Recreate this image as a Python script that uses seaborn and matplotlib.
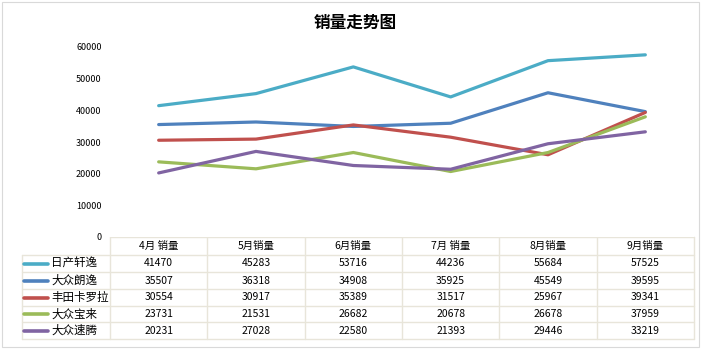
import matplotlib
matplotlib.use("Agg")
import matplotlib.pyplot as plt
import pandas as pd
import seaborn as sns

months = ["4月 销量", "5月销量", "6月销量", "7月 销量", "8月销量", "9月销量"]
models = ["日产轩逸", "大众朗逸", "丰田卡罗拉", "大众宝来", "大众速腾"]
nissan_sylphy = [41470, 45283, 53716, 44236, 55684, 57525]
vw_lavida = [35507, 36318, 34908, 35925, 45549, 39595]
toyota_corolla = [30554, 30917, 35389, 31517, 25967, 39341]
vw_bora = [23731, 21531, 26682, 20678, 26678, 37959]
vw_sagitar = [20231, 27028, 22580, 21393, 29446, 33219]
colors = ["#4BACC6", "#4F81BD", "#C0504D", "#9BBB59", "#8064A2"]
yticks = [0, 10000, 20000, 30000, 40000, 50000, 60000]

series = [nissan_sylphy, vw_lavida, toyota_corolla, vw_bora, vw_sagitar]
rows = []
for name, vals in zip(models, series):
    for i, v in enumerate(vals):
        rows.append({"model": name, "month": i, "sales": v})
df = pd.DataFrame(rows)

sns.set_style("white")
plt.rcParams["font.family"] = ["Noto Sans CJK SC", "DejaVu Sans"]
plt.rcParams["text.color"] = "black"
plt.rcParams["ytick.color"] = "black"

W, H = 708, 354
fig = plt.figure(figsize=(W / 100, H / 100), dpi=100)

# main plot area: x 110..694, y 47..237 px
ax = fig.add_axes([110 / W, (H - 237) / H, (694 - 110) / W, (237 - 47) / H])
sns.lineplot(data=df, x="month", y="sales", hue="model", hue_order=models,
             palette=colors, linewidth=2.3, legend=False, ax=ax)
ax.set_xlim(-0.5, 5.5)
ax.set_ylim(0, 60000)
ax.set_xticks([])
ax.set_yticks(yticks)
ax.set_yticklabels([str(t) for t in yticks], fontsize=6.5)
ax.tick_params(axis="y", length=0, pad=6)
ax.set_xlabel("")
ax.set_ylabel("")
for s in ax.spines.values():
    s.set_visible(False)
for line in ax.lines:
    line.set_clip_on(False)

# overlay in pixel coords for frame, title and data table
ov = fig.add_axes([0, 0, 1, 1], zorder=-1)
ov.set_xlim(0, W)
ov.set_ylim(H, 0)
ov.axis("off")
ov.add_patch(plt.Rectangle((2, 2), 697, 345, fill=False, ec="#D9D9D9", lw=0.8))
fig.text(355 / W, 1 - 23 / H, "销量走势图", ha="center", va="center",
         fontsize=12, fontweight="bold")

grid = "#E8E5DA"
col_edges = [110 + i * (694 - 110) / 6 for i in range(7)]
row_edges = [237, 255, 272, 289, 306, 322, 339]
# header row
ov.plot([110, 694], [237, 237], color=grid, lw=1)
for x in col_edges:
    ov.plot([x, x], [237, 339], color=grid, lw=1)
ov.plot([22, 22], [255, 339], color=grid, lw=1)
for y in row_edges[1:]:
    ov.plot([22, 694], [y, y], color=grid, lw=1)

for i, m in enumerate(months):
    xc = (col_edges[i] + col_edges[i + 1]) / 2
    ov.text(xc, 246, m, ha="center", va="center", fontsize=7.5)

for r, (name, vals, c) in enumerate(zip(models, series, colors)):
    yc = (row_edges[r + 1] + row_edges[r + 2]) / 2
    ov.plot([24, 48], [yc, yc], color=c, lw=2.6, solid_capstyle="round")
    ov.text(51, yc, name, ha="left", va="center", fontsize=8.3)
    for i, v in enumerate(vals):
        xc = (col_edges[i] + col_edges[i + 1]) / 2
        ov.text(xc, yc, str(v), ha="center", va="center", fontsize=7.5)

fig.savefig("out.png", dpi=100)
